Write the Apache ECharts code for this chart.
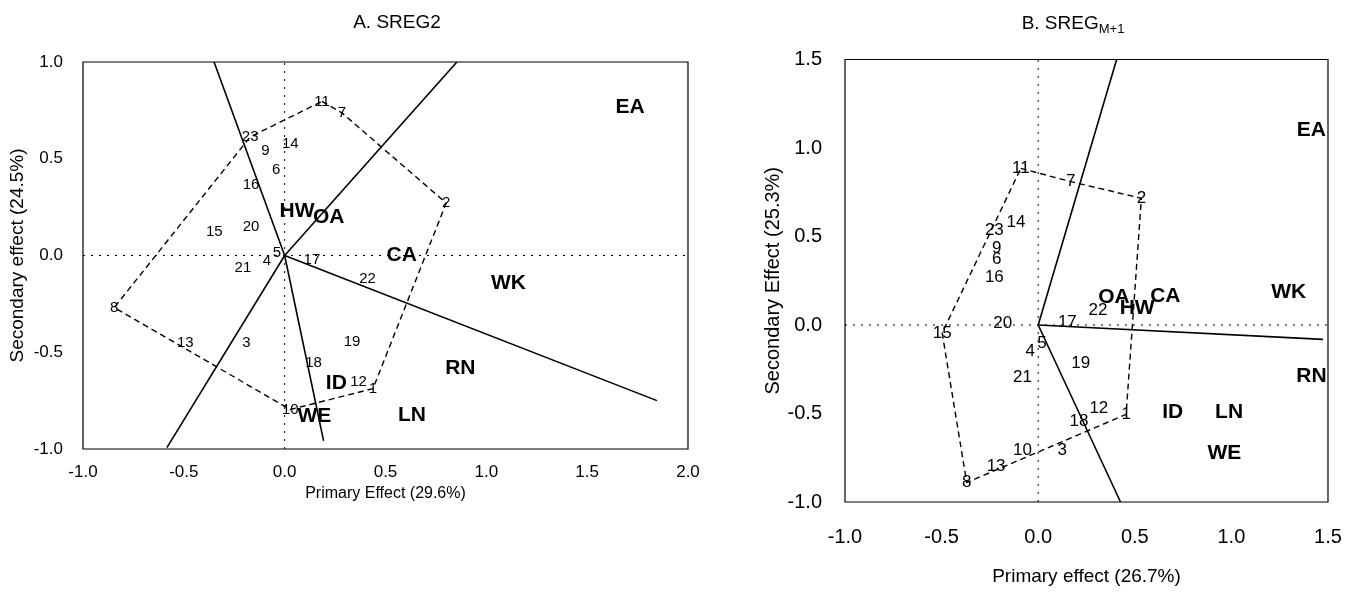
<!DOCTYPE html>
<html><head><meta charset="utf-8">
<script src="https://cdn.jsdelivr.net/npm/echarts@6/dist/echarts.min.js"></script>
<style>html,body{margin:0;padding:0;background:#fff}#c{width:1357px;height:599px}</style>
</head><body><div id="c"></div>
<script>
// ---------- Panel A: SREG2 ----------
const aTitle = 'A. SREG2';
const aXName = 'Primary Effect (29.6%)';
const aYName = 'Secondary effect (24.5%)';
const aXTicks = [-1.0, 2.0, 0.5]; // min, max, step
const aYTicks = [-1.0, 1.0, 0.5];
const aGenotypes = [
  [0.438,-0.688,'1'],[0.801,0.271,'2'],[-0.19,-0.45,'3'],[-0.088,-0.026,'4'],[-0.038,0.014,'5'],
  [-0.042,0.445,'6'],[0.284,0.737,'7'],[-0.845,-0.269,'8'],[-0.096,0.539,'9'],[0.028,-0.796,'10'],
  [0.185,0.796,'11'],[0.366,-0.654,'12'],[-0.493,-0.454,'13'],[0.028,0.577,'14'],[-0.349,0.123,'15'],
  [-0.167,0.363,'16'],[0.135,-0.021,'17'],[0.143,-0.556,'18'],[0.334,-0.448,'19'],[-0.167,0.146,'20'],
  [-0.207,-0.065,'21'],[0.411,-0.123,'22'],[-0.171,0.613,'23']
];
const aEnvironments = [
  [1.713,0.767,'EA'],[1.11,-0.145,'WK'],[0.871,-0.582,'RN'],[0.631,-0.825,'LN'],[0.58,0.0,'CA'],
  [0.256,-0.659,'ID'],[0.147,-0.83,'WE'],[0.061,0.231,'HW'],[0.218,0.197,'OA']
];
const aHull = ['11','7','2','1','10','8','23','11'];
const aRays = [[-0.35,1.0],[0.193,-0.958],[0.854,1.0],[1.846,-0.75],[-0.584,-0.993]];

// ---------- Panel B: SREG M+1 ----------
const bTitle = 'B. SREG';
const bTitleSub = 'M+1';
const bXName = 'Primary effect (26.7%)';
const bYName = 'Secondary Effect (25.3%)';
const bXTicks = [-1.0, 1.5, 0.5];
const bYTicks = [-1.0, 1.5, 0.5];
const bGenotypes = [
  [0.455,-0.505,'1'],[0.534,0.716,'2'],[0.125,-0.706,'3'],[-0.041,-0.151,'4'],[0.019,-0.103,'5'],
  [-0.215,0.371,'6'],[0.168,0.81,'7'],[-0.37,-0.89,'8'],[-0.215,0.433,'9'],[-0.081,-0.71,'10'],
  [-0.09,0.885,'11'],[0.314,-0.471,'12'],[-0.218,-0.8,'13'],[-0.115,0.578,'14'],[-0.497,-0.045,'15'],
  [-0.227,0.267,'16'],[0.151,0.013,'17'],[0.211,-0.546,'18'],[0.22,-0.216,'19'],[-0.184,0.01,'20'],
  [-0.081,-0.295,'21'],[0.309,0.085,'22'],[-0.227,0.533,'23']
];
const bEnvironments = [
  [1.414,1.10,'EA'],[1.297,0.188,'WK'],[1.414,-0.292,'RN'],[0.696,-0.49,'ID'],[0.988,-0.49,'LN'],
  [0.964,-0.726,'WE'],[0.392,0.156,'OA'],[0.658,0.16,'CA'],[0.512,0.094,'HW']
];
const bHull = ['11','7','2','1','8','15','11'];
const bRays = [[0.406,1.5],[1.474,-0.081],[0.426,-1.0]];

const FONT = '"Liberation Sans", Arial, sans-serif';

function panelSeries(idx, xt, yt, genos, envs, hull, rays, genoSize, envSize) {
  const s = [];
  const dotted = {color:'#000', width:1, type:[2,6]};
  s.push({type:'line', xAxisIndex:idx, yAxisIndex:idx, data:[[xt[0],0],[xt[1],0]], symbol:'none', silent:true, lineStyle:dotted, z:1});
  s.push({type:'line', xAxisIndex:idx, yAxisIndex:idx, data:[[0,yt[0]],[0,yt[1]]], symbol:'none', silent:true, lineStyle:dotted, z:1});
  rays.forEach(r => s.push({type:'line', xAxisIndex:idx, yAxisIndex:idx, data:[[0,0],[r[0],r[1]]], symbol:'none',
    lineStyle:{color:'#000', width:1.6}, z:2}));
  const lookup = {}; genos.forEach(g => lookup[g[2]] = [g[0], g[1]]);
  s.push({type:'line', xAxisIndex:idx, yAxisIndex:idx, data:hull.map(n => lookup[n]), symbol:'none',
    lineStyle:{color:'#000', width:1.4, type:[6,4]}, z:2});
  const lbl = (size, weight) => ({show:true, position:'inside', formatter:'{b}', color:'#000', opacity:1,
    textBorderWidth:0, fontFamily:FONT, fontSize:size, fontWeight:weight});
  s.push({type:'scatter', xAxisIndex:idx, yAxisIndex:idx, symbolSize:1, itemStyle:{color:'rgba(0,0,0,0)'},
    data:genos.map(g => ({value:[g[0],g[1]], name:g[2]})), label:lbl(genoSize,'normal'), z:3});
  s.push({type:'scatter', xAxisIndex:idx, yAxisIndex:idx, symbolSize:1, itemStyle:{color:'rgba(0,0,0,0)'},
    data:envs.map(g => ({value:[g[0],g[1]], name:g[2]})), label:lbl(envSize,'bold'), z:3});
  return s;
}

function axis(idx, t, name, labelSize, labelMargin, nameGap, nameSize) {
  return {type:'value', gridIndex:idx, min:t[0], max:t[1], interval:t[2],
    name:name, nameLocation:'middle', nameGap:nameGap,
    nameTextStyle:{color:'#000', fontFamily:FONT, fontSize:nameSize},
    axisLine:{show:false}, axisTick:{show:false}, splitLine:{show:false},
    axisLabel:{color:'#000', fontFamily:FONT, fontSize:labelSize, margin:labelMargin, formatter:v => v.toFixed(1)}};
}

const chart = echarts.init(document.getElementById('c'), null, {renderer:'canvas'});
chart.setOption({
  animation:false,
  backgroundColor:'#fff',
  title:[
    {text:aTitle, left:392, top:8, textAlign:'center', textStyle:{fontFamily:FONT, fontWeight:'normal', fontSize:19, color:'#000'}},
    {text:'{m|' + bTitle + '}{s|' + bTitleSub + '}', left:1068, top:7, textAlign:'center',
     textStyle:{fontWeight:'normal', rich:{
       m:{fontFamily:FONT, fontWeight:'normal', fontSize:19, color:'#000'},
       s:{fontFamily:FONT, fontWeight:'normal', fontSize:13, color:'#000', padding:[11,0,0,0]}}}}
  ],
  grid:[
    {left:83, top:62, width:605, height:387, show:true, borderColor:'#000', borderWidth:1.2, backgroundColor:'transparent'},
    {left:845, top:59.5, width:483, height:442.5, show:true, borderColor:'#000', borderWidth:1.2, backgroundColor:'transparent'}
  ],
  xAxis:[axis(0, aXTicks, aXName, 17, 15, 34, 16), axis(1, bXTicks, bXName, 20, 25, 65, 19)],
  yAxis:[axis(0, aYTicks, aYName, 17, 20, 56, 19), axis(1, bYTicks, bYName, 20, 23, 60, 20)],
  series:[].concat(
    panelSeries(0, aXTicks, aYTicks, aGenotypes, aEnvironments, aHull, aRays, 15, 21),
    panelSeries(1, bXTicks, bYTicks, bGenotypes, bEnvironments, bHull, bRays, 17, 21)
  )
});
</script></body></html>
